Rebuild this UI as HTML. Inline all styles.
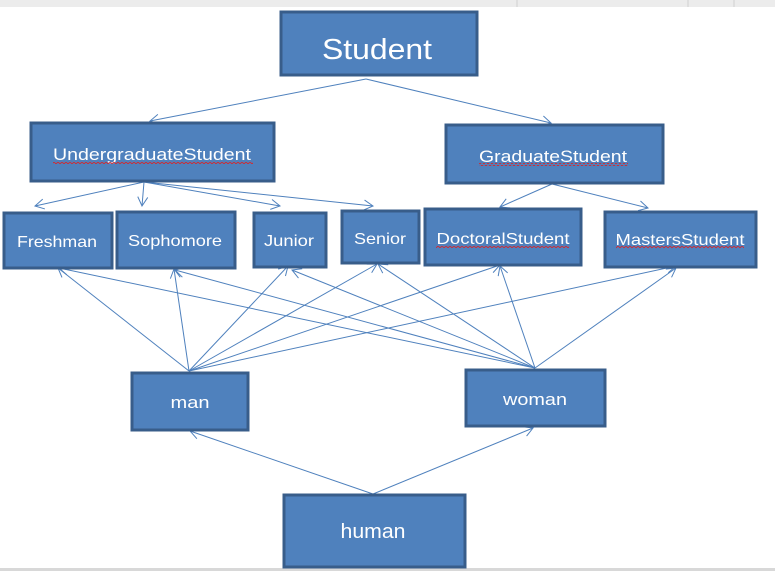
<!DOCTYPE html>
<html><head><meta charset="utf-8"><style>
html,body{margin:0;padding:0;background:#fff;width:775px;height:571px;overflow:hidden}
svg{display:block}
text{font-family:"Liberation Sans",sans-serif;fill:#fff}
</style></head><body>
<svg width="775" height="571" viewBox="0 0 775 571" xmlns="http://www.w3.org/2000/svg">
<defs>
<marker id="a" markerWidth="12" markerHeight="12" refX="10" refY="6" orient="auto" markerUnits="userSpaceOnUse">
<path d="M1,1 L10,6 L1,11" fill="none" stroke="#4f81bd" stroke-width="1"/>
</marker>
<pattern id="sq" width="4" height="3" patternUnits="userSpaceOnUse"><path d="M0,2 L2,0 L4,2" fill="none" stroke="#e02020" stroke-width="0.8"/></pattern>
</defs>
<rect x="0" y="0" width="775" height="7" fill="#ececec"/>
<line x1="517" y1="0" x2="517" y2="7" stroke="#d0d0d0"/>
<line x1="688" y1="0" x2="688" y2="7" stroke="#d0d0d0"/>
<line x1="734" y1="0" x2="734" y2="7" stroke="#d0d0d0"/>
<rect x="0" y="568" width="775" height="3" fill="#d8d8d8"/>

<g stroke="#4f81bd" stroke-width="1" fill="none" marker-end="url(#a)">
<line x1="366" y1="79" x2="150" y2="121"/>
<line x1="366" y1="79" x2="551" y2="123"/>
<line x1="144" y1="182" x2="35" y2="206"/>
<line x1="144" y1="182" x2="142" y2="206"/>
<line x1="144" y1="182" x2="280" y2="206"/>
<line x1="144" y1="182" x2="373" y2="206"/>
<line x1="552" y1="184" x2="500" y2="207"/>
<line x1="552" y1="184" x2="648" y2="208"/>
<line x1="189" y1="371" x2="58" y2="268"/>
<line x1="189" y1="371" x2="174" y2="269"/>
<line x1="189" y1="371" x2="288" y2="266"/>
<line x1="189" y1="371" x2="377" y2="264"/>
<line x1="189" y1="371" x2="500" y2="265"/>
<line x1="189" y1="371" x2="676" y2="266"/>
<line x1="535" y1="368" x2="59" y2="268"/>
<line x1="535" y1="368" x2="175" y2="270"/>
<line x1="535" y1="368" x2="292" y2="270"/>
<line x1="535" y1="368" x2="378" y2="264"/>
<line x1="535" y1="368" x2="500" y2="266"/>
<line x1="535" y1="368" x2="676" y2="268"/>
<line x1="373" y1="494" x2="190" y2="431"/>
<line x1="373" y1="494" x2="533" y2="428"/>
</g>

<g fill="#4f81bd" stroke="#385d8a" stroke-width="3">
<rect x="281" y="12" width="196" height="63"/>
<rect x="31" y="123" width="243" height="58"/>
<rect x="446" y="125" width="217" height="58"/>
<rect x="4" y="213" width="108" height="55"/>
<rect x="117" y="212" width="118" height="56"/>
<rect x="254" y="213" width="72" height="54"/>
<rect x="342" y="211" width="77" height="52"/>
<rect x="425" y="209" width="156" height="56"/>
<rect x="605" y="212" width="151" height="55"/>
<rect x="132" y="373" width="116" height="57"/>
<rect x="466" y="370" width="139" height="56"/>
<rect x="284" y="495" width="181" height="72"/>
</g>

<g>
<text x="377" y="59" font-size="29" text-anchor="middle" textLength="110" lengthAdjust="spacingAndGlyphs">Student</text>
<text x="152" y="160" font-size="17" text-anchor="middle" textLength="198" lengthAdjust="spacingAndGlyphs">UndergraduateStudent</text>
<text x="553" y="162" font-size="17" text-anchor="middle" textLength="148" lengthAdjust="spacingAndGlyphs">GraduateStudent</text>
<text x="57" y="247" font-size="16" text-anchor="middle" textLength="80" lengthAdjust="spacingAndGlyphs">Freshman</text>
<text x="175" y="246" font-size="16" text-anchor="middle" textLength="94" lengthAdjust="spacingAndGlyphs">Sophomore</text>
<text x="289" y="246" font-size="16" text-anchor="middle" textLength="50" lengthAdjust="spacingAndGlyphs">Junior</text>
<text x="380" y="244" font-size="16" text-anchor="middle" textLength="52" lengthAdjust="spacingAndGlyphs">Senior</text>
<text x="503" y="244" font-size="16" text-anchor="middle" textLength="133" lengthAdjust="spacingAndGlyphs">DoctoralStudent</text>
<text x="680" y="245" font-size="16" text-anchor="middle" textLength="129" lengthAdjust="spacingAndGlyphs">MastersStudent</text>
<text x="190" y="408" font-size="17" text-anchor="middle" textLength="39" lengthAdjust="spacingAndGlyphs">man</text>
<text x="535" y="405" font-size="17" text-anchor="middle" textLength="64" lengthAdjust="spacingAndGlyphs">woman</text>
<text x="373" y="538" font-size="20" text-anchor="middle" textLength="65" lengthAdjust="spacingAndGlyphs">human</text>
</g>
<g fill="url(#sq)">
<rect x="53" y="161" width="200" height="3"/>
<rect x="479" y="163" width="149" height="3"/>
<rect x="436" y="245" width="133" height="3"/>
<rect x="616" y="246" width="128" height="3"/>
</g>
</svg>
</body></html>
